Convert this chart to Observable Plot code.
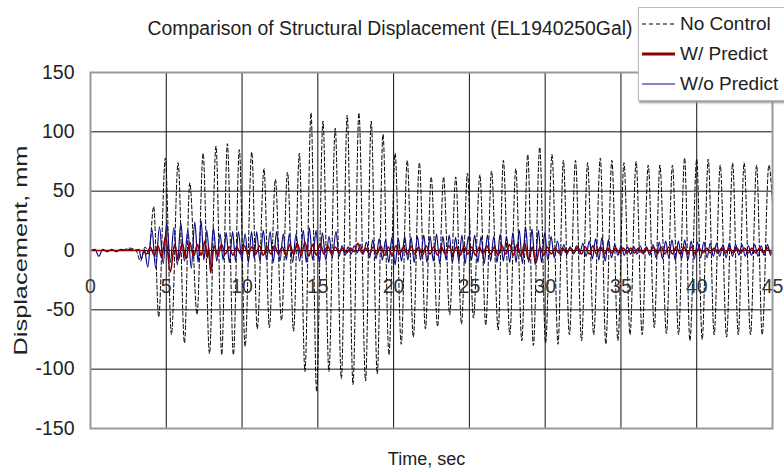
<!DOCTYPE html>
<html><head><meta charset="utf-8">
<script src="https://cdn.jsdelivr.net/npm/d3@7"></script>
<script src="https://cdn.jsdelivr.net/npm/@observablehq/plot@0.6"></script>
<style>
body{margin:0;background:#fff;font-family:"Liberation Sans",Arial,sans-serif;}
#wrap{position:relative;width:784px;height:472px;overflow:hidden;}
#title{position:absolute;left:0;top:16px;width:780px;text-align:center;font-size:19.4px;line-height:24px;color:#222;}
#legend{position:absolute;left:638px;top:7px;width:150px;height:92px;background:#fff;border:1px solid #bbb;box-shadow:1px 2px 2px #999;font-size:19px;color:#222;}
.li{position:absolute;left:3px;height:24px;display:flex;align-items:center;white-space:nowrap;}
.li svg{margin-right:5px;}
</style></head>
<body>
<div id="wrap">
<div id="chart"></div>
<div id="title">Comparison of Structural Displacement (EL1940250Gal)</div>
<div id="legend">
 <div class="li" style="top:4px"><svg width="33" height="4"><line x1="0" y1="2" x2="33" y2="2" stroke="#000" stroke-width="1.2" stroke-dasharray="4,3"/></svg>No Control</div>
 <div class="li" style="top:34px"><svg width="33" height="4"><line x1="0" y1="2" x2="33" y2="2" stroke="#8b0000" stroke-width="3"/></svg>W/ Predict</div>
 <div class="li" style="top:64px"><svg width="33" height="4"><line x1="0" y1="2" x2="33" y2="2" stroke="#0a0a85" stroke-width="1.2"/></svg>W/o Predict</div>
</div>
</div>
<script>
const xTicks = [0,5,10,15,20,25,30,35,40,45];
const yTicks = [-150,-100,-50,0,50,100,150];

// No Control: extrema
const ncT = [0,0.5,1.0,1.5,2.0,2.6,3.0,3.3,3.6,3.85,4.17,4.5,4.94,5.34,5.78,6.2,6.55,7.03,7.43,7.85,8.28,8.66,9.03,9.43,9.82,10.2,10.64,11.0,11.45,11.8,12.2,12.6,13.0,13.4,13.78,14.15,14.55,14.92,15.34,15.73,16.15,16.55,16.94,17.32,17.71,18.15,18.52,18.92,19.3,19.69,20.1,20.5,20.9,21.3,21.7,22.1,22.48,22.9,23.3,23.7,24.1,24.48,24.87,25.27,25.69,26.08,26.46,26.9,27.24,27.67,28.06,28.46,28.85,29.22,29.64,30.03,30.45,30.85,31.2,31.6,32.0,32.4,32.8,33.2,33.64,34.0,34.4,34.8,35.2,35.6,36.0,36.4,36.8,37.2,37.57,38.0,38.4,38.8,39.2,39.55,40.0,40.36,40.76,41.15,41.55,41.97,42.37,42.74,43.13,43.55,43.95,44.32,44.76,45];
const ncV = [0,0,0,0,0,2,0,-9,3,-3,37,-56,78,-71,74,-78,57,-54,82,-87,88,-88,90,-88,85,-81,83,-66,69,-65,60,-59,66,-68,82,-102,116,-119,109,-102,103,-108,114,-113,116,-110,109,-104,98,-88,82,-79,76,-73,74,-66,62,-64,62,-54,62,-62,65,-57,64,-63,67,-67,76,-71,69,-76,81,-80,87,-78,81,-79,76,-71,76,-76,74,-71,78,-79,76,-76,74,-71,75,-71,72,-65,72,-70,72,-71,78,-76,77,-75,77,-71,72,-73,74,-71,74,-71,72,-71,72,40];

// W/o Predict
const woT = [0,0.3,0.55,0.8,1.1,1.4,1.7,2.0,2.3,2.6,2.9,3.2,3.35,3.55,3.78,
4.05,4.3,4.55,4.8,5.03,5.27,5.5,5.73,5.96,6.19,6.42,6.65,6.88,7.1,7.3,7.48,7.67,7.9,
8.11,8.33,8.55,8.75,8.95,9.16,9.38,9.57,9.76,9.98,10.2,10.42,10.63,10.8,10.96,11.18,11.4,11.62,11.85,12.06,12.28,12.5,12.72,12.92,13.12,13.34,13.56,13.8,14.04,14.24,14.44,14.66,14.88,15.1,
15.3,15.52,15.74,15.95,16.2,16.4,16.6,16.8,17.0,17.2,17.4,17.6,17.8,18.0,
18.21,18.42,18.63,18.84,19.05,19.26,19.47,19.68,19.89,20.1,20.31,20.52,20.73,20.94,21.15,21.36,21.57,21.78,21.99,22.2,
22.41,22.62,22.83,23.04,23.25,23.46,23.67,23.88,24.09,24.3,24.51,24.72,24.93,25.14,25.35,25.56,25.77,25.98,26.19,26.4,26.61,26.82,27.03,27.24,27.45,27.66,27.87,
28.08,28.29,28.5,28.71,28.92,29.13,29.34,29.55,29.76,29.97,30.18,30.39,30.6,30.81,31.02,31.23,31.44,
31.65,31.86,32.07,32.28,
32.49,32.7,32.91,33.12,33.33,33.54,33.75,33.96,34.17,34.38,34.59,
34.8,35.01,35.22,35.43,35.64,35.85,36.06,36.27,36.48,36.69,36.9,
37.11,37.32,37.53,37.74,37.95,38.16,38.37,38.58,38.79,39.0,39.21,39.42,39.63,39.84,40.05,40.26,40.47,
40.68,40.89,41.1,41.31,41.52,41.73,41.94,42.15,42.36,42.57,42.78,42.99,43.2,43.41,43.62,43.83,44.04,44.25,44.46,44.67,44.88,45];
const woV = [0,1,-5,1,-1,1,-1,1,0,1,0,1,-7,1,-14,
18,-15,20,-11,23,-10,19,-12,23,-9,17,-15,24,-10,25,-8,17,-12,
19,-9,14,-8,15,-10,16,-9,16,-8,14,-10,16,-7,16,-9,17,-8,16,-10,16,-9,14,-8,14,-10,14,-9,17,-10,19,-8,17,-10,
15,-8,12,-6,16,-5,4,-4,3,-3,4,-2,5,-3,
7,-6,9,-7,10,-8,9,-10,11,-12,10,-9,12,-8,11,-10,12,-8,13,-10,
12,-9,14,-11,12,-8,13,-10,11,-9,13,-11,12,-8,13,-10,12,-11,13,-9,12,-10,14,-9,12,-10,15,
-10,17,-11,20,-10,18,-12,17,-10,15,-8,12,-6,8,-5,5,-3,
3,-3,4,-3,
6,-5,8,-7,10,-8,11,-9,9,-6,5,
-4,4,-4,3,-3,3,-3,4,-3,3,-4,
5,-6,7,-7,8,-6,9,-8,8,-7,9,-8,8,-7,7,-6,7,
-6,6,-5,6,-5,5,-6,6,-5,5,-4,5,-5,4,-4,5,-5,4,-4,5,-4,2];

// W/ Predict
const wpT = [0,1,2,3,3.45,3.7,3.95,4.2,4.45,4.7,4.95,5.27,5.55,5.8,6.05,6.3,6.55,6.8,7.05,7.3,7.55,7.7,7.8,7.93,
8.15,8.4,8.65,8.9,9.15,9.4,9.65,9.9,10.15,10.4,10.65,10.9,11.15,11.4,11.65,11.9,12.15,12.4,12.65,12.9,13.15,13.4,13.65,13.9,14.15,14.4,14.65,14.9,15.15,15.4,15.65,15.9,16.15,16.4,16.65,16.9,17.15,17.4,
17.65,17.9,18.15,18.4,18.65,18.9,19.15,19.4,19.65,19.9,20.15,20.4,20.65,20.9,21.15,21.4,21.65,21.9,22.15,22.4,22.65,22.9,23.15,23.4,23.65,23.9,24.15,24.4,24.65,24.9,25.15,25.4,25.65,25.9,26.15,26.4,26.65,26.9,27.15,27.4,27.65,27.9,28.15,28.4,28.65,28.9,29.15,29.4,29.65,29.9,
30.15,30.4,30.65,30.9,31.15,31.4,31.65,31.9,32.15,32.4,32.65,32.9,33.15,33.4,33.65,33.9,34.15,34.4,34.65,34.9,35.15,35.4,35.65,35.9,36.15,36.4,36.65,36.9,37.15,37.4,37.65,37.9,38.15,38.4,38.65,38.9,39.15,39.4,39.65,39.9,40.15,40.4,40.65,40.9,41.15,41.4,41.65,41.9,42.15,42.4,42.65,42.9,43.15,43.4,43.65,43.9,44.15,44.4,44.65,44.9,45];
const wpV = [0,0,0,0,0,-3,3,-4,4,-6,12,-18,5,-8,6,-7,7,-5,5,-4,8,-6,3,-19,
4,-4,5,-3,3,-4,3,-3,4,-3,3,-3,4,-4,3,-3,4,-3,3,-4,5,-3,6,-4,7,-5,5,-4,6,-3,4,-3,3,-2,2,-2,2,-1,
6,-2,2,-3,3,-3,4,-4,3,-4,4,-3,3,-3,4,-3,3,-4,4,-3,3,-4,3,-3,4,-3,3,-4,4,-3,3,-4,3,-3,4,-3,3,-4,4,-3,5,-4,5,-5,6,-8,3,-10,3,-4,
3,-3,2,-2,2,-2,2,-2,3,-3,3,-3,4,-3,3,-3,2,-2,2,-2,2,-2,2,-2,2,-2,2,-2,3,-3,3,-3,3,-3,3,-3,3,-3,3,-3,2,-2,2,-2,2,-2,2,-2,2,-2,2,-2,2,-2,2,-2,2,-2,2,-2,0];

function rows(T, V) {
  const n = Math.min(T.length, V.length);
  return d3.range(n).map(i => ({t: T[i], v: V[i]}));
}
const nc = rows(ncT, ncV), wo = rows(woT, woV), wp = rows(wpT, wpV);

const chart = Plot.plot({
  width: 784, height: 472,
  marginLeft: 90, marginRight: 12, marginTop: 72, marginBottom: 44,
  style: {fontFamily: "Liberation Sans, Arial, sans-serif", color: "#222", background: "#fff"},
  x: {domain: [0, 45], axis: null},
  y: {domain: [-150, 150], axis: null},
  marks: [
    Plot.gridX(xTicks.slice(1, -1), {stroke: "#111", strokeOpacity: 1, strokeWidth: 1}),
    Plot.gridY(yTicks.slice(1, -1), {stroke: "#111", strokeOpacity: 1, strokeWidth: 1}),
    Plot.line(nc, {x: "t", y: "v", stroke: "#000", strokeWidth: 1, strokeDasharray: "4,2.5", curve: "monotone-x"}),
    Plot.line(wo, {x: "t", y: "v", stroke: "#0a0a85", strokeWidth: 1.2, curve: "monotone-x"}),
    Plot.line(wp, {x: "t", y: "v", stroke: "#8b0000", strokeWidth: 1.6, curve: "monotone-x"}),
    Plot.frame({stroke: "#999", strokeWidth: 2}),
    Plot.axisY(yTicks, {tickSize: 0, tickPadding: 16, fontSize: 19.5, fill: "#222", label: null, tickFormat: d => String(d)}),
    Plot.text(xTicks, {x: d => d, y: 0, dy: 36, text: d => String(d), fontSize: 19.5, fill: "#333"}),
    Plot.text(["Displacement, mm"], {frameAnchor: "left", textAnchor: "middle", rotate: -90, dx: -70, fontSize: 19, fill: "#222"}),
    Plot.text(["Time, sec"], {frameAnchor: "bottom", dx: -5, dy: 36, fontSize: 18, fill: "#222"})
  ]
});
document.getElementById("chart").appendChild(chart);
// stretch the vertical axis title to the length it has in the reference
d3.select(chart).selectAll("text").filter(function() { return this.textContent === "Displacement, mm"; })
  .attr("textLength", 210).attr("lengthAdjust", "spacingAndGlyphs");
</script>
</body></html>
